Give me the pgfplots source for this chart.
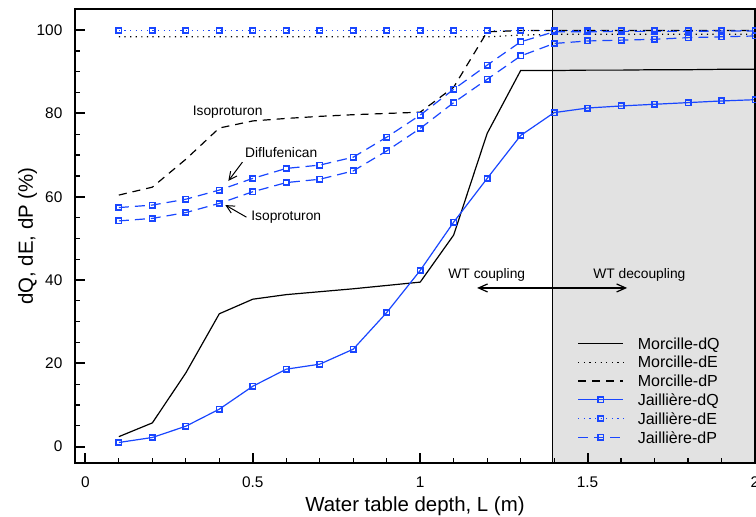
\documentclass[border=0pt]{standalone}
\usepackage{fontspec}
\setmainfont{Liberation Sans}
\usepackage{pgfplots}
\usepackage{pgfplotstable}
\pgfplotsset{compat=1.18}
\usetikzlibrary{arrows.meta}

\definecolor{jblue}{RGB}{25,70,255}
\definecolor{zonegray}{RGB}{226,226,226}

% M = Morcille, J = Jailliere; JdPd = diflufenican, JdPi = isoproturon
\pgfplotstableread{
x    MdQ   MdE   MdP   JdQ   JdE   JdPd  JdPi
0.1  2.4   98.4  60.4  1.0   99.9  57.4  54.2
0.2  5.7   98.4  62.3  2.2   99.9  58.0  54.8
0.3  17.7  98.4  69.0  4.9   99.9  59.4  56.2
0.4  31.9  98.4  76.5  9.0   99.9  61.6  58.4
0.5  35.4  98.4  78.2  14.5  99.9  64.4  61.2
0.6  36.5  98.4  78.8  18.6  99.9  66.8  63.4
0.7  37.2  98.4  79.3  19.8  99.9  67.6  64.2
0.8  37.9  98.4  79.7  23.4  99.9  69.5  66.2
0.9  38.7  98.4  80.0  32.2  99.9  74.3  71.0
1.0  39.5  98.4  80.3  42.3  99.9  79.6  76.4
1.1  50.8  98.4  86.3  53.9  99.9  85.8  82.6
1.2  75.2  98.4  99.6  64.4  99.9  91.6  88.2
1.3  90.3  98.8  99.9  74.7  99.9  97.2  93.8
1.4  90.3  99.0  99.9  80.2  99.9  99.6  96.8
1.5  90.4  99.0  99.9  81.3  99.9  99.6  97.4
1.6  90.4  99.0  99.9  81.8  99.9  99.7  97.6
1.7  90.5  99.0  99.9  82.2  99.9  99.7  97.8
1.8  90.5  99.0  99.9  82.6  99.9  99.7  98.2
1.9  90.6  99.0  99.9  83.0  99.9  99.8  98.4
2.0  90.6  99.0  99.9  83.3  99.9  99.8  98.6
}\data

\begin{document}
\begin{tikzpicture}
\begin{axis}[
  scale only axis, width=340pt, height=227.2pt,
  xmin=-0.031, xmax=2, ymin=-4.0, ymax=105.1,
  xtick={0,0.5,1,1.5,2}, minor x tick num=4,
  ytick={0,20,...,100}, minor y tick num=3,
  xtick pos=bottom, ytick pos=left, tick align=inside,
  major tick length=5pt, minor tick length=2.5pt,
  every major tick/.append style={line width=1pt, black},
  every minor tick/.append style={line width=0.6pt, black},
  axis line style={line width=1pt},
  axis on top, clip=false,
  /pgf/number format/assume math mode=true,
  tick label style={font=\fontsize{7.7}{9}\selectfont},
  xticklabel style={yshift=-3.3pt},
  yticklabel style={xshift=-2.8pt},
  label style={font=\fontsize{10.2}{12}\selectfont},
  xlabel={Water table depth, L (m)},
  ylabel={dQ, dE, dP (\%)},
  xlabel style={at={(axis description cs:0.5,-0.1065)}, anchor=base},
  ylabel style={at={(axis description cs:-0.0618,0.5)}, anchor=base},
  legend style={at={(axis description cs:0.7386,0.2775)}, anchor=north west,
    draw=none, fill=none, inner sep=0pt, row sep=3.7pt,
    font=\fontsize{8}{9.6}\selectfont,
    nodes={inner sep=0pt, text height=5.7pt, text depth=0pt},
    /tikz/every odd column/.append style={column sep=7pt}},
  legend cell align=left,
  legend image code/.code={\draw[mark repeat=2,mark phase=2]
    plot coordinates {(0pt,0pt) (11.25pt,0pt) (22.5pt,0pt)};},
  jmark/.style={mark=square, mark size=1.35pt, mark options={solid, line width=0.8pt}},
]
\fill[zonegray] (axis cs:1.395,-4.0) rectangle (axis cs:2,105.1);
\draw[line width=0.8pt] (axis cs:1.395,-4.0) -- (axis cs:1.395,105.1);

\addplot[black, line width=0.6pt] table[x=x, y=MdQ] {\data};
\addlegendentry{Morcille-dQ}
\addplot[black, line width=0.6pt, dash pattern=on 0.6pt off 2.2pt] table[x=x, y=MdE] {\data};
\addlegendentry{Morcille-dE}
\addplot[black, line width=0.6pt, dash pattern=on 4pt off 3pt] table[x=x, y=MdP] {\data};
\addlegendentry{Morcille-dP}
\addplot[jblue, line width=0.6pt, jmark] table[x=x, y=JdQ] {\data};
\addlegendentry{Jaillière-dQ}
\addplot[jblue, line width=0.6pt, jmark, dash pattern=on 0.6pt off 2.2pt] table[x=x, y=JdE] {\data};
\addlegendentry{Jaillière-dE}
\addplot[jblue, line width=0.6pt, jmark, dash pattern=on 5pt off 3pt] table[x=x, y=JdPd] {\data};
\addlegendentry{Jaillière-dP}
\addplot[jblue, line width=0.6pt, jmark, dash pattern=on 5pt off 3pt, forget plot] table[x=x, y=JdPi] {\data};

\begin{scope}[every node/.style={font=\fontsize{6.9}{8}\selectfont, inner sep=0pt}]
\node at (axis cs:0.425,80.3) {Isoproturon};
\node at (axis cs:0.585,70.5) {Diflufenican};
\draw[-{Straight Barb[length=4pt,width=4pt]}, line width=0.5pt]
  (axis cs:0.469,68.3) -- (axis cs:0.427,63.8);
\node at (axis cs:0.6,55.1) {Isoproturon};
\draw[-{Straight Barb[length=4pt,width=4pt]}, line width=0.5pt]
  (axis cs:0.481,55.1) -- (axis cs:0.418,58.0);
\node at (axis cs:1.199,41.2) {WT coupling};
\node[anchor=west] at (axis cs:1.516,41.2) {WT decoupling};
\draw[{Straight Barb[length=4.5pt,width=4pt]}-{Straight Barb[length=4.5pt,width=4pt]}, line width=0.6pt]
  (axis cs:1.17,38.1) -- (axis cs:1.618,38.1);
\end{scope}
\end{axis}
\pgfresetboundingbox
\useasboundingbox (-37.5pt,-26.35pt) rectangle (340.5pt,231.65pt);
\end{tikzpicture}
\end{document}
